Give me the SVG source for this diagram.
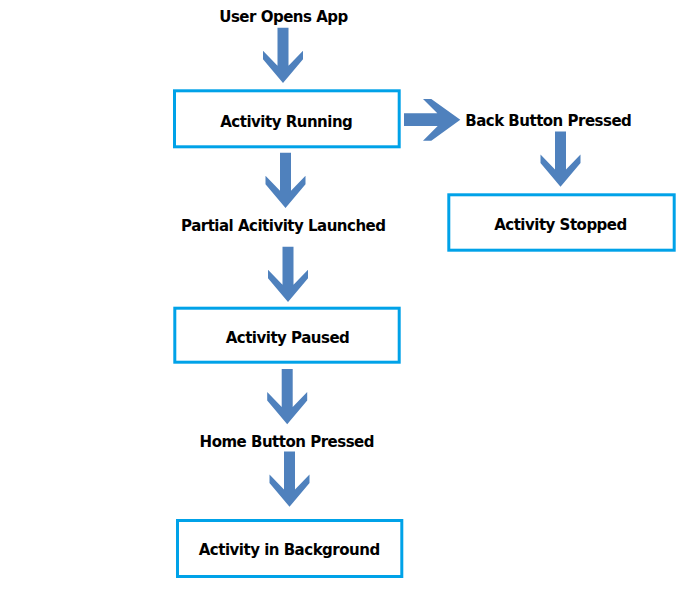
<svg xmlns="http://www.w3.org/2000/svg" xmlns:xlink="http://www.w3.org/1999/xlink" width="694" height="603" viewBox="0 0 694 603">
<style>
.box{fill:#fff;stroke:#00a2e8;stroke-width:3}
.arr{fill:#4f81bd}
.t{font-family:"DejaVu Sans",Verdana,sans-serif;font-weight:bold;font-size:15px;letter-spacing:-0.5px;fill:#000;text-anchor:middle}
</style>
<defs>
<polygon id="down" points="-5.5,0 5.5,0 5.5,38 20,23 20,31.5 0,55.3 -20,31.5 -20,23 -5.5,38"/>
</defs>
<rect width="694" height="603" fill="#fff"/>
<g id="connectors" class="arr">
<use xlink:href="#down" href="#down" transform="translate(283,27.7)"/>
<use xlink:href="#down" href="#down" transform="translate(285.5,152.7)"/>
<use xlink:href="#down" href="#down" transform="translate(288,246.7)"/>
<use xlink:href="#down" href="#down" transform="translate(287.2,369)"/>
<use xlink:href="#down" href="#down" transform="translate(289.5,451.5)"/>
<use xlink:href="#down" href="#down" transform="translate(560.5,131.5)"/>
<polygon points="404,113.3 437.3,113.3 423,99 431.3,99 460.3,119.8 431.3,140.7 423,140.7 437.7,126 404,126"/>
</g>
<g id="user-opens-app"><text class="t" x="283.5" y="22">User Opens App</text></g>
<g id="activity-running"><rect class="box" x="174.5" y="90.8" width="224.7" height="56"/><text class="t" x="286.3" y="127">Activity Running</text></g>
<g id="back-button-pressed"><text class="t" x="548.3" y="126">Back Button Pressed</text></g>
<g id="activity-stopped"><rect class="box" x="448.8" y="194.8" width="225.4" height="55.4"/><text class="t" x="560.5" y="230">Activity Stopped</text></g>
<g id="partial-activity-launched"><text class="t" x="283.3" y="231">Partial Acitivity Launched</text></g>
<g id="activity-paused"><rect class="box" x="174.8" y="308.2" width="224.4" height="54"/><text class="t" x="287.5" y="342.7">Activity Paused</text></g>
<g id="home-button-pressed"><text class="t" x="286.8" y="446.5">Home Button Pressed</text></g>
<g id="activity-in-background"><rect class="box" x="177.5" y="520.5" width="224.3" height="56"/><text class="t" x="289.2" y="555">Activity in Background</text></g>
</svg>
